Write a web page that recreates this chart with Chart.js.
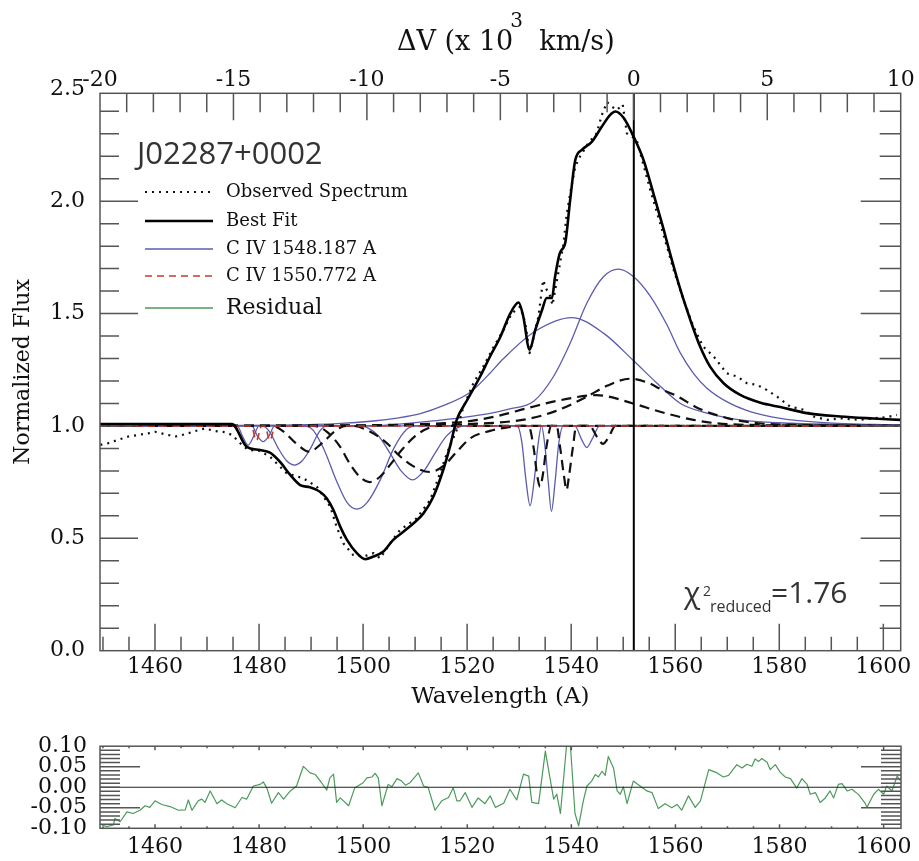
<!DOCTYPE html>
<html>
<head>
<meta charset="utf-8">
<script src="https://cdn.jsdelivr.net/npm/chart.js@4.4.0/dist/chart.umd.min.js"></script>
<style>
  body { margin: 0; background: #fff; }
  #wrap { position: relative; width: 919px; height: 861px; }
  #main { position: absolute; left: 0; top: 0; }
  #resid { position: absolute; left: 0; top: 720px; }
</style>
</head>
<body>
<div id="wrap">
  <canvas id="main" width="919" height="720"></canvas>
  <canvas id="resid" width="919" height="141"></canvas>
</div>
<script>
// axis ranges and tick labels
const waveMin = 1449.43, waveMax = 1603.34;
const waveTicks = [1460, 1480, 1500, 1520, 1540, 1560, 1580, 1600];
const velTicks = [-20, -15, -10, -5, 0, 5, 10];
const fluxTicks = [0, 0.5, 1.0, 1.5, 2.0, 2.5];
const resTicks = [-0.10, -0.05, 0.00, 0.05, 0.10];

const objectName = 'J02287+0002';
const legendLabels = ['Observed Spectrum', 'Best Fit', 'C IV 1548.187 A', 'C IV 1550.772 A', 'Residual'];
const chiValue = '=1.76';

// observed spectrum (dotted)
const obsWave = [1449.5,1451.0,1452.9,1454.9,1456.8,1458.7,1460.0,1461.9,1463.9,1465.8,1467.7,1469.6,1471.5,1473.5,1474.8,1476.7,1477.9,1480.0,1482.1,1485.3,1488.5,1491.1,1493.7,1494.9,1496.2,1498.1,1500.1,1502.0,1503.3,1505.2,1507.1,1510.3,1512.9,1514.8,1516.1,1518.0,1519.3,1521.2,1523.1,1525.1,1527.0,1528.6,1530.2,1531.2,1532.0,1532.8,1533.7,1534.6,1535.3,1535.8,1536.4,1538.5,1539.1,1539.8,1540.8,1541.7,1543.3,1544.9,1545.9,1546.9,1547.8,1548.8,1549.9,1550.7,1552.6,1555.2,1557.1,1558.4,1559.7,1561.6,1563.5,1565.4,1567.4,1569.9,1571.9,1573.8,1575.7,1577.6,1579.6,1582.1,1584.7,1586.6,1589.2,1591.7,1595.6,1598.1,1600.7,1602.6];
const obsFlux = [0.916,0.923,0.938,0.953,0.960,0.967,0.974,0.963,0.953,0.963,0.977,0.989,0.977,0.972,0.960,0.916,0.893,0.89,0.863,0.790,0.767,0.730,0.641,0.552,0.478,0.426,0.419,0.434,0.411,0.478,0.537,0.589,0.671,0.790,0.878,0.982,1.086,1.190,1.264,1.352,1.427,1.501,1.531,1.457,1.324,1.397,1.486,1.649,1.606,1.591,1.538,1.806,1.935,2.034,2.154,2.199,2.258,2.302,2.384,2.441,2.421,2.406,2.431,2.302,2.272,2.050,1.902,1.798,1.694,1.561,1.442,1.352,1.309,1.234,1.220,1.190,1.183,1.160,1.130,1.086,1.072,1.042,1.027,1.034,1.027,1.034,1.039,1.049];

// best fit (solid)
const fitWave = [1449.4,1474.8,1477.6,1480.2,1482.1,1484.0,1486.0,1487.9,1489.8,1491.7,1493.0,1494.3,1495.6,1496.9,1498.8,1500.4,1502.0,1503.9,1505.8,1507.8,1509.7,1511.6,1513.5,1515.4,1516.7,1518.0,1519.9,1522.5,1524.4,1526.4,1528.3,1529.9,1530.8,1532.0,1533.1,1534.4,1535.3,1536.3,1536.9,1537.8,1538.9,1539.8,1540.8,1542.1,1544.0,1545.9,1547.5,1548.5,1550.1,1552.0,1553.9,1555.8,1557.8,1559.0,1561.0,1562.9,1564.8,1566.7,1569.3,1572.5,1576.4,1580.2,1585.3,1591.7,1598.1,1603.3];
const fitFlux = [1.008,1.008,0.908,0.893,0.881,0.841,0.782,0.737,0.727,0.707,0.678,0.626,0.552,0.493,0.434,0.407,0.419,0.441,0.493,0.530,0.567,0.611,0.685,0.804,0.908,1.027,1.111,1.220,1.309,1.397,1.501,1.549,1.486,1.339,1.427,1.516,1.569,1.569,1.664,1.768,1.820,2.005,2.184,2.229,2.265,2.332,2.384,2.399,2.370,2.287,2.184,2.035,1.872,1.768,1.606,1.472,1.352,1.264,1.190,1.138,1.103,1.084,1.057,1.042,1.033,1.027];

// C IV 1548 components (thin blue)
const blueEm1Wave = [1449.43,1500,1515.4,1520,1524.4,1528,1532.8,1536.6,1539.8,1543.0,1546.2,1549.1,1552.0,1555.2,1558.4,1561.0,1563.5,1566.1,1569.9,1574.4,1580.2,1588.5,1603.34];
const blueEm1Flux = [1.0,1.0,1.027,1.04,1.056,1.075,1.11,1.22,1.368,1.546,1.664,1.698,1.664,1.578,1.45,1.324,1.234,1.168,1.108,1.064,1.034,1.015,1.004];
const blueEm2Wave = [1449.43,1485,1495,1502,1506.5,1511,1515.4,1520.6,1524,1527,1533,1540.1,1546.2,1552.0,1556.5,1561.0,1566.1,1572.5,1582.1,1603.34];
const blueEm2Flux = [1.0,1.004,1.01,1.022,1.035,1.055,1.09,1.15,1.225,1.3,1.42,1.482,1.413,1.29,1.19,1.10,1.057,1.027,1.012,1.004];
const blueAbs1Wave = [1449.43,1475.8,1476.9,1477.9,1478.9,1480.0,1480.5,1482.0,1483.7,1485.3,1486.8,1488.3,1489.9,1491.6,1493.1,1603.34];
const blueAbs1Flux = [1.0,1.0,0.95,0.915,0.95,1.0,1.0,0.975,0.9,0.845,0.826,0.845,0.9,0.975,1.0,1.0];
const blueAbs2Wave = [1449.43,1478.6,1479.7,1480.8,1481.9,1483.0,1488.0,1490.0,1492.4,1494.9,1496.9,1498.8,1500.8,1503.3,1505.9,1508.4,1510.5,1529.6,1530.5,1531.3,1532.1,1532.9,1533.7,1534.3,1535.0,1535.6,1536.2,1536.9,1537.6,1538.5,1603.34];
const blueAbs2Flux = [1.0,1.0,0.955,0.93,0.955,1.0,1.0,0.99,0.9,0.755,0.66,0.63,0.66,0.76,0.9,0.985,1.0,1.0,0.93,0.76,0.645,0.76,0.93,1.0,0.9,0.75,0.62,0.75,0.92,1.0,1.0];
const blueAbs3Wave = [1449.43,1499.5,1501,1503,1505.2,1507.3,1509.5,1511.7,1513.8,1516,1518,1519.5,1540.7,1542.0,1543.0,1544.0,1545.5,1603.34];
const blueAbs3Flux = [1.0,1.0,0.99,0.955,0.878,0.8,0.76,0.8,0.878,0.955,0.99,1.0,1.0,0.94,0.904,0.94,1.0,1.0];

// black dashed components
const dashEm1Wave = [1449.43,1510,1520,1531.4,1537,1543,1547,1551.3,1555,1557,1560,1564.5,1570,1576,1585,1603.34];
const dashEm1Flux = [1.0,1.003,1.008,1.03,1.066,1.13,1.18,1.21,1.19,1.166,1.137,1.078,1.035,1.012,1.004,1.0];
const dashEm2Wave = [1449.43,1500,1515,1520,1526,1531.4,1538,1544.9,1551.9,1557.1,1563.5,1570,1585,1603.34];
const dashEm2Flux = [1.0,1.003,1.012,1.02,1.045,1.078,1.115,1.137,1.1,1.063,1.027,1.008,1.002,1.0];
const dashAbs1Wave = [1449.43,1482.5,1484.7,1487,1489.6,1492.2,1494.5,1496.7,1498,1501.3,1504.5,1507.1,1509.7,1512.8,1515.6,1518,1520.6,1524.4,1528,1530.5,1531.8,1532.8,1533.4,1534.0,1534.6,1535.2,1536.2,1537.2,1537.9,1538.6,1539.1,1539.6,1540.3,1541.0,1543.5,1545.0,1546.1,1547.2,1548.5,1603.34];
const dashAbs1Flux = [1.0,1.0,0.975,0.925,0.886,0.925,0.975,1.0,1.0,0.975,0.925,0.865,0.82,0.795,0.825,0.885,0.945,0.978,0.995,1.0,1.0,0.9,0.79,0.73,0.79,0.9,1.0,1.0,0.9,0.78,0.715,0.78,0.9,1.0,1.0,0.95,0.92,0.95,1.0,1.0];
const dashAbs2Wave = [1449.43,1490.5,1493,1495.5,1497.5,1499.3,1501.2,1503.3,1505.3,1507.5,1510,1512.5,1514.5,1603.34];
const dashAbs2Flux = [1.0,1.0,0.975,0.91,0.83,0.775,0.75,0.775,0.83,0.895,0.955,0.99,1.0,1.0];

// C IV 1550 components (red dashed)
const redWave = [1449.43,1478.5,1479.5,1480.5,1481.1,1482.1,1483.1,1603.34];
const redFlux = [1.0,1.0,0.935,1.0,1.0,0.935,1.0,1.0];

// residual panel
const resWave = [1449.8,1450.7,1452.0,1452.3,1453.3,1454.6,1455.8,1457.1,1458.1,1459.0,1460.0,1461.3,1462.9,1464.5,1465.8,1466.4,1467.1,1468.3,1469.0,1469.6,1470.6,1471.9,1472.8,1473.8,1475.4,1476.7,1477.6,1478.9,1480.2,1480.8,1481.5,1482.4,1483.7,1484.7,1486.0,1487.2,1488.5,1489.8,1490.8,1492.0,1493.0,1493.6,1494.3,1494.9,1495.6,1497.2,1498.4,1500.0,1500.7,1501.7,1502.3,1502.9,1503.6,1504.8,1505.5,1506.5,1507.4,1508.1,1509.0,1510.6,1511.6,1512.5,1513.8,1515.1,1516.4,1517.3,1518.0,1518.6,1519.6,1520.9,1522.1,1523.4,1524.4,1525.4,1527.0,1528.2,1529.5,1530.8,1531.8,1532.4,1533.7,1535.0,1536.6,1537.2,1537.9,1539.1,1539.8,1540.7,1541.4,1542.3,1543.0,1543.9,1544.6,1545.2,1545.9,1546.5,1547.1,1548.1,1548.8,1549.4,1550.0,1550.7,1551.9,1553.2,1554.5,1555.5,1556.7,1558.0,1559.3,1560.3,1561.2,1562.5,1563.8,1564.8,1566.4,1568.0,1569.2,1570.2,1571.8,1572.8,1573.7,1574.7,1575.3,1576.0,1576.6,1577.6,1578.2,1579.2,1580.1,1581.1,1582.1,1583.3,1584.3,1585.3,1585.9,1586.9,1587.8,1588.8,1589.7,1590.4,1591.3,1592.0,1593.0,1593.9,1595.2,1596.5,1596.8,1598.1,1599.0,1600.0,1600.6,1601.6,1602.6,1603.2];
const resFlux = [-0.092,-0.096,-0.092,-0.076,-0.084,-0.060,-0.064,-0.056,-0.045,-0.049,
  -0.033,-0.042,-0.047,-0.056,-0.055,-0.031,-0.056,-0.033,-0.029,-0.037,
  -0.009,-0.040,-0.031,-0.040,-0.050,-0.025,-0.029,0.003,0.007,0.013,
  -0.002,-0.039,-0.013,-0.029,-0.009,0.003,0.051,0.035,0.031,0.011,
  -0.007,0.023,0.032,-0.037,-0.026,-0.045,-0.001,0.011,0.023,0.025,
  0.034,0.023,-0.045,0.007,0.001,0.021,0.015,0.005,0.011,0.035,
  0.003,-0.001,-0.056,-0.033,-0.025,-0.001,-0.033,-0.033,-0.013,-0.049,
  -0.026,-0.040,-0.021,-0.049,-0.039,-0.005,-0.031,0.032,0.027,-0.037,
  -0.040,0.088,-0.029,-0.017,-0.064,0.105,0.105,-0.064,-0.094,-0.033,
  0.003,0.015,0.031,0.025,0.039,0.029,0.075,0.047,-0.009,-0.017,
  0.001,-0.040,0.015,0.003,-0.009,-0.013,-0.052,-0.040,-0.050,-0.042,
  -0.056,-0.021,-0.049,-0.033,0.043,0.035,0.025,0.029,0.055,0.047,
  0.056,0.051,0.069,0.063,0.070,0.061,0.043,0.055,0.037,0.025,
  0.021,-0.002,0.021,0.007,-0.017,-0.013,-0.037,-0.026,-0.009,-0.026,
  0.007,0.009,-0.009,-0.005,-0.018,-0.040,-0.049,-0.017,-0.005,-0.017,
  0.003,-0.009,0.027,0.017];

const serif = "'DejaVu Serif', serif";
const sans = "'Open Sans', 'DejaVu Sans', sans-serif";
const blue = '#5c5cae';
const red = '#c23b32';
const green = '#4c9a5c';
const frameColor = '#555';

Chart.defaults.font.family = serif;
Chart.defaults.color = '#111';

function pts(xs, ys) {
    return xs.map((x, i) => ({ x: x, y: ys[i] }));
}

function curve(xs, ys, color, width, dash) {
    return {
        data: pts(xs, ys),
        borderColor: color,
        borderWidth: width,
        borderDash: dash || [],
        pointRadius: 0,
        fill: false,
        cubicInterpolationMode: 'monotone',
        borderJoinStyle: 'round'
    };
}

const mainDecor = {
    id: 'mainDecor',
    afterDatasetsDraw(chart) {
        const { ctx, chartArea: a, scales } = chart;
        ctx.save();

        // zero velocity line
        const xv = scales.x2.getPixelForValue(0);
        ctx.strokeStyle = '#000';
        ctx.lineWidth = 2;
        ctx.beginPath();
        ctx.moveTo(xv, a.top);
        ctx.lineTo(xv, a.bottom);
        ctx.stroke();

        // frame and ticks
        ctx.strokeStyle = frameColor;
        ctx.lineWidth = 1.5;
        ctx.strokeRect(a.left, a.top, a.right - a.left, a.bottom - a.top);
        ctx.beginPath();
        for (let w = 1450; w <= 1600; w += 5) {
            const px = scales.x.getPixelForValue(w);
            const len = w % 20 === 0 ? 27 : 14;
            ctx.moveTo(px, a.bottom);
            ctx.lineTo(px, a.bottom - len);
        }
        for (let v = -19; v < 10; v++) {
            const px = scales.x2.getPixelForValue(v);
            const len = v % 5 === 0 ? 27 : 19;
            ctx.moveTo(px, a.top);
            ctx.lineTo(px, a.top + len);
        }
        for (let i = 1; i < 25; i++) {
            const py = scales.y.getPixelForValue(i / 10);
            const major = i % 5 === 0;
            ctx.moveTo(a.left, py);
            ctx.lineTo(a.left + (major ? 38 : 19), py);
            ctx.moveTo(a.right, py);
            ctx.lineTo(a.right - (major ? 40 : 21), py);
        }
        ctx.stroke();

        // top axis title with raised exponent
        ctx.fillStyle = '#111';
        ctx.textBaseline = 'alphabetic';
        ctx.font = '27px ' + serif;
        const t1 = '\u0394V (x 10';
        const w1 = ctx.measureText(t1).width;
        const x0 = 397;
        ctx.fillText(t1, x0, 50);
        ctx.font = '20px ' + serif;
        ctx.fillText('3', x0 + w1 - 3, 27);
        ctx.font = '27px ' + serif;
        ctx.fillText('km/s)', x0 + w1 + 26, 50);

        // legend
        ctx.fillStyle = '#333';
        ctx.font = '31px ' + sans;
        ctx.fillText(objectName, 137, 164);

        const rows = [192, 221, 249, 276, 308];
        const styles = [
            { color: '#111', width: 2, dash: [2, 5] },
            { color: '#000', width: 2.4, dash: [] },
            { color: blue, width: 1.3, dash: [] },
            { color: red, width: 1.6, dash: [7, 5] },
            { color: green, width: 1.3, dash: [] }
        ];
        ctx.textBaseline = 'middle';
        legendLabels.forEach((label, i) => {
            const s = styles[i];
            ctx.strokeStyle = s.color;
            ctx.lineWidth = s.width;
            ctx.setLineDash(s.dash);
            ctx.beginPath();
            ctx.moveTo(145, rows[i]);
            ctx.lineTo(213, rows[i]);
            ctx.stroke();
            ctx.setLineDash([]);
            ctx.fillStyle = '#111';
            ctx.font = (i === 4 ? '22px ' : '18px ') + serif;
            ctx.fillText(label, 226, rows[i]);
        });

        // reduced chi square
        ctx.textBaseline = 'alphabetic';
        ctx.fillStyle = '#333';
        ctx.font = '30px ' + sans;
        ctx.fillText('\u03c7', 684, 603);
        ctx.font = '14px ' + sans;
        ctx.fillText('2', 703, 596);
        ctx.font = '16px ' + sans;
        ctx.fillText('reduced', 710, 612);
        ctx.font = '30px ' + sans;
        ctx.fillText(chiValue, 771, 603);

        ctx.restore();
    }
};

new Chart(document.getElementById('main'), {
    type: 'line',
    data: {
        datasets: [
            curve(fitWave, fitFlux, '#000', 2.6),
            Object.assign(curve(obsWave, obsFlux, '#111', 2.2, [2, 5]), { cubicInterpolationMode: 'default', tension: 0 }),
            curve(redWave, redFlux, red, 1.6, [7, 5]),
            curve(dashEm1Wave, dashEm1Flux, '#111', 2.2, [10, 6]),
            curve(dashEm2Wave, dashEm2Flux, '#111', 2.2, [10, 6]),
            curve(dashAbs1Wave, dashAbs1Flux, '#111', 2.2, [10, 6]),
            curve(dashAbs2Wave, dashAbs2Flux, '#111', 2.2, [10, 6]),
            curve(blueEm1Wave, blueEm1Flux, blue, 1.3),
            curve(blueEm2Wave, blueEm2Flux, blue, 1.3),
            curve(blueAbs1Wave, blueAbs1Flux, blue, 1.3),
            curve(blueAbs2Wave, blueAbs2Flux, blue, 1.3),
            curve(blueAbs3Wave, blueAbs3Flux, blue, 1.3)
        ]
    },
    options: {
        responsive: false,
        animation: false,
        layout: { padding: { top: 0, right: 18.3, bottom: 0, left: 0 } },
        plugins: { legend: { display: false }, tooltip: { enabled: false } },
        scales: {
            x: {
                type: 'linear', position: 'bottom', min: waveMin, max: waveMax,
                afterBuildTicks: s => { s.ticks = waveTicks.map(v => ({ value: v })); },
                afterFit: s => { s.height = 69.3; },
                grid: { display: false, drawTicks: false },
                border: { display: false },
                ticks: { font: { size: 22 }, padding: 3, maxRotation: 0, autoSkip: false, callback: v => String(v) },
                title: { display: true, text: 'Wavelength (A)', font: { size: 23 }, padding: { top: 0, bottom: 9 } }
            },
            x2: {
                type: 'linear', position: 'top', min: -20, max: 10,
                afterBuildTicks: s => { s.ticks = velTicks.map(v => ({ value: v })); },
                afterFit: s => { s.height = 93.3; },
                grid: { display: false, drawTicks: false },
                border: { display: false },
                ticks: { font: { size: 22 }, padding: 0, maxRotation: 0, autoSkip: false, callback: v => String(v) }
            },
            y: {
                type: 'linear', position: 'left', min: 0, max: 2.48,
                afterBuildTicks: s => { s.ticks = fluxTicks.map(v => ({ value: v })); },
                afterFit: s => { s.width = 100; },
                grid: { display: false, drawTicks: false },
                border: { display: false },
                ticks: { font: { size: 22 }, padding: 15, autoSkip: false, callback: v => v.toFixed(1) },
                title: { display: true, text: 'Normalized Flux', font: { size: 22 }, padding: { top: 10, bottom: 0 } }
            }
        }
    },
    plugins: [mainDecor]
});

const residDecor = {
    id: 'residDecor',
    afterDatasetsDraw(chart) {
        const { ctx, chartArea: a, scales } = chart;
        ctx.save();
        const y0 = scales.y.getPixelForValue(0);
        ctx.strokeStyle = '#222';
        ctx.lineWidth = 1.2;
        ctx.beginPath();
        ctx.moveTo(a.left, y0);
        ctx.lineTo(a.right, y0);
        ctx.stroke();

        ctx.strokeStyle = frameColor;
        ctx.lineWidth = 1.5;
        ctx.strokeRect(a.left, a.top, a.right - a.left, a.bottom - a.top);
        ctx.beginPath();
        for (let i = -9; i < 10; i++) {
            const py = scales.y.getPixelForValue(i / 100);
            const major = Math.abs(i) === 5;
            ctx.moveTo(a.left, py);
            ctx.lineTo(a.left + (major ? 40 : 20), py);
            ctx.moveTo(a.right, py);
            ctx.lineTo(a.right - (major ? 40 : 20), py);
        }
        for (let w = 1450; w <= 1600; w += 5) {
            const px = scales.x.getPixelForValue(w);
            const len = w % 20 === 0 ? 4 : 2;
            ctx.moveTo(px, a.bottom);
            ctx.lineTo(px, a.bottom - len);
            ctx.moveTo(px, a.top);
            ctx.lineTo(px, a.top + len);
        }
        ctx.stroke();
        ctx.restore();
    }
};

new Chart(document.getElementById('resid'), {
    type: 'line',
    data: {
        datasets: [
            Object.assign(curve(resWave, resFlux, green, 1.2), { cubicInterpolationMode: 'default', tension: 0 })
        ]
    },
    options: {
        responsive: false,
        animation: false,
        layout: { padding: { top: 24.3, right: 18, bottom: 0, left: 0 } },
        plugins: { legend: { display: false }, tooltip: { enabled: false } },
        scales: {
            x: {
                type: 'linear', position: 'bottom', min: waveMin, max: waveMax,
                afterBuildTicks: s => { s.ticks = waveTicks.map(v => ({ value: v })); },
                afterFit: s => { s.height = 32.7; },
                grid: { display: false, drawTicks: false },
                border: { display: false },
                ticks: { font: { size: 22 }, padding: 6, maxRotation: 0, autoSkip: false, callback: v => String(v) }
            },
            y: {
                type: 'linear', position: 'left', min: -0.1, max: 0.1,
                afterBuildTicks: s => { s.ticks = resTicks.map(v => ({ value: v })); },
                afterFit: s => { s.width = 100; },
                grid: { display: false, drawTicks: false },
                border: { display: false },
                ticks: { font: { size: 22 }, padding: 13, autoSkip: false, callback: v => v.toFixed(2) }
            }
        }
    },
    plugins: [residDecor]
});
</script>
</body>
</html>
